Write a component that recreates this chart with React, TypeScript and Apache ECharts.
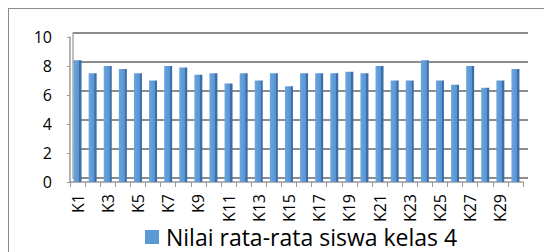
import React, { useEffect, useRef } from "react";
import * as echarts from "echarts";

const categories = Array.from({ length: 30 }, (_, i) => "K" + (i + 1));
const values = [
  8.4, 7.5, 8.0, 7.8, 7.5, 7.0, 8.0, 7.9, 7.4, 7.5,
  6.8, 7.5, 7.0, 7.5, 6.6, 7.5, 7.5, 7.5, 7.6, 7.5,
  8.0, 7.0, 7.0, 8.4, 7.0, 6.7, 8.0, 6.5, 7.0, 7.8,
];
const seriesName = "Nilai rata-rata siswa kelas 4";
const yMin = 0;
const yMax = 10;
const yStep = 2;

const FONT = "'Open Sans', sans-serif";

export default function App() {
  const ref = useRef<HTMLDivElement>(null);
  useEffect(() => {
    if (!ref.current) return;
    const chart = echarts.init(ref.current, undefined, { renderer: "svg" });
    const barGradient = new echarts.graphic.LinearGradient(0, 0, 1, 0, [
      { offset: 0, color: "#6CA6DE" },
      { offset: 0.72, color: "#5693D2" },
      { offset: 0.74, color: "#3E6EA8" },
      { offset: 1, color: "#3E6EA8" },
    ]);
    chart.setOption({
      animation: false,
      grid: [
        { left: 64, right: 24, top: 24, bottom: 74 },
        { left: 61, right: 29, top: 28, bottom: 70 },
      ],
      xAxis: [
        {
          gridIndex: 0,
          type: "category",
          data: categories,
          show: false,
        },
        {
          gridIndex: 1,
          type: "category",
          data: categories,
          axisLine: { lineStyle: { color: "#999", width: 1.5 } },
          axisTick: { show: true, interval: 0, length: 5, lineStyle: { color: "#999" } },
          axisLabel: {
            interval: 1,
            rotate: 90,
            margin: 12,
            fontSize: 16,
            fontFamily: FONT,
            color: "#000",
          },
        },
      ],
      yAxis: [
        {
          gridIndex: 0,
          type: "value",
          min: yMin,
          max: yMax,
          interval: yStep,
          axisLabel: { show: false },
          axisLine: { show: true, lineStyle: { color: "#aaa", width: 1.5 } },
          axisTick: { show: false },
          splitLine: { lineStyle: { color: "#8c8c8c", width: 1.8 } },
        },
        {
          gridIndex: 1,
          type: "value",
          min: yMin,
          max: yMax,
          interval: yStep,
          axisLine: { show: true, lineStyle: { color: "#999", width: 1.5 } },
          axisTick: { show: true, length: 3, lineStyle: { color: "#999" } },
          splitLine: { show: false },
          axisLabel: {
            margin: 18,
            fontSize: 16,
            fontFamily: FONT,
            color: "#000",
          },
        },
      ],
      legend: {
        left: 136,
        top: 216,
        padding: 0,
        itemWidth: 14,
        itemHeight: 14,
        icon: "rect",
        data: [{ name: seriesName, itemStyle: { color: "#5B9BD5" } }],
        textStyle: {
          fontSize: 23,
          fontFamily: FONT,
          color: "#000",
          padding: [0, 0, 0, 2],
          lineHeight: 24,
        },
      },
      series: [
        {
          name: seriesName,
          type: "bar",
          xAxisIndex: 1,
          yAxisIndex: 1,
          data: values,
          barWidth: 8,
          itemStyle: { color: barGradient },
        },
      ],
    });
    return () => chart.dispose();
  }, []);
  return (
    <div
      style={{
        width: 544,
        height: 244,
        boxSizing: "border-box",
        borderTop: "1px solid #8c8c8c",
        borderLeft: "1px solid #8c8c8c",
        overflow: "hidden",
      }}
    >
      <div ref={ref} style={{ width: 543, height: 243 }} />
    </div>
  );
}
